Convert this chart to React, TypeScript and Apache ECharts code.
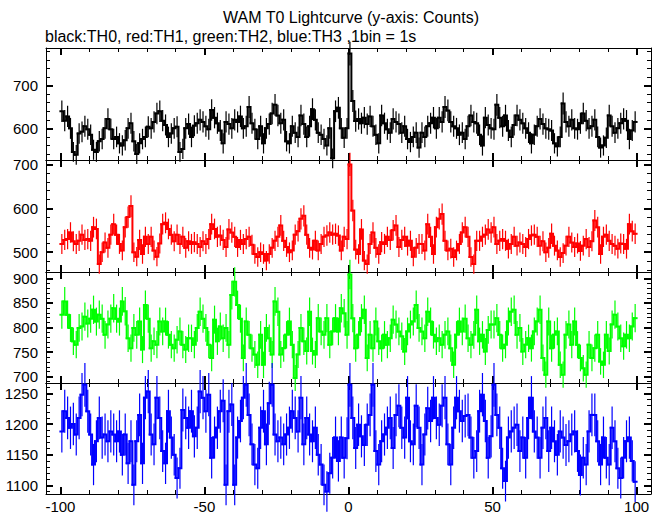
import React, { useEffect, useRef } from 'react';
import * as echarts from 'echarts';

// 1 bin = 1 s, bins from -100 s to +100 s
const BIN_START = -100;
const BIN_WIDTH = 1;

const X_MAJOR = [-100, -50, 0, 50, 100];
const X_MINOR = [-90, -80, -70, -60, -40, -30, -20, -10, 10, 20, 30, 40, 60, 70, 80, 90];

const Y1_MAJOR = [600, 700];
const Y1_MINOR = [540, 560, 580, 620, 640, 660, 680, 720, 740, 760, 780];
const Y2_MAJOR = [500, 600, 700];
const Y2_MINOR = [460, 480, 520, 540, 560, 580, 620, 640, 660, 680];
const Y3_MAJOR = [700, 750, 800, 850, 900];
const Y3_MINOR = [690, 710, 720, 730, 740, 760, 770, 780, 790, 810, 820, 830, 840, 860, 870, 880, 890];
const Y4_MAJOR = [1100, 1150, 1200, 1250];
const Y4_MINOR = [1090, 1110, 1120, 1130, 1140, 1160, 1170, 1180, 1190, 1210, 1220, 1230, 1240, 1260];

// TH0 (black) counts per bin
const TH0 = [
  640, 618, 628, 600, 545, 538, 588, 592, 605, 598,
  585, 550, 545, 570, 575, 600, 622, 598, 575, 580,
  565, 560, 572, 600, 612, 570, 540, 565, 575, 580,
  604, 600, 615, 635, 640, 618, 608, 580, 588, 600,
  604, 545, 552, 600, 610, 580, 606, 612, 620, 615,
  605, 598, 643, 625, 612, 595, 565, 615, 610, 600,
  620, 615, 628, 600, 605, 650, 612, 598, 575, 605,
  565, 600, 610, 635, 655, 630, 612, 620, 570, 565,
  605, 590, 580, 630, 610, 580, 605, 645, 620, 590,
  585, 575, 560, 600, 530, 640, 648, 600, 578, 600,
  775, 664, 617, 622, 612, 625, 610, 628, 605, 585,
  565, 630, 612, 598, 590, 622, 615, 610, 590, 605,
  575, 568, 580, 590, 555, 590, 580, 605, 612, 625,
  600, 625, 615, 650, 642, 615, 605, 600, 585, 590,
  575, 605, 630, 615, 612, 585, 560, 625, 608, 600,
  598, 655, 625, 605, 630, 595, 580, 608, 630, 620,
  612, 600, 590, 565, 585, 605, 622, 610, 600, 598,
  595, 565, 558, 580, 658, 615, 605, 620, 600, 598,
  612, 635, 618, 600, 605, 620, 580, 555, 560, 578,
  630, 605, 590, 600, 612, 622, 618, 575, 595, 615,
];

// TH1 (red)
const TH1 = [
  519, 528, 530, 545, 525, 519, 526, 540, 528, 530,
  526, 557, 553, 473, 500, 522, 510, 540, 564, 540,
  519, 504, 557, 580, 605, 500, 490, 528, 496, 535,
  519, 535, 504, 490, 520, 564, 567, 553, 540, 525,
  540, 519, 535, 510, 525, 519, 523, 519, 512, 525,
  519, 530, 564, 553, 535, 538, 528, 512, 552, 545,
  535, 512, 528, 519, 530, 535, 517, 496, 489, 500,
  496, 481, 496, 510, 526, 535, 561, 526, 512, 500,
  504, 540, 548, 576, 583, 540, 510, 506, 526, 504,
  519, 535, 538, 545, 540, 542, 538, 504, 535, 530,
  700, 595, 506, 496, 552, 481, 473, 519, 545, 510,
  496, 523, 519, 535, 528, 550, 561, 512, 528, 535,
  515, 526, 490, 510, 519, 519, 504, 564, 535, 496,
  557, 576, 587, 526, 504, 508, 489, 504, 519, 545,
  557, 535, 489, 473, 526, 526, 535, 540, 552, 545,
  557, 519, 526, 530, 526, 508, 519, 535, 515, 522,
  519, 512, 530, 538, 540, 535, 515, 525, 500, 510,
  542, 515, 504, 489, 498, 515, 535, 522, 512, 520,
  503, 515, 530, 512, 525, 572, 557, 496, 535, 540,
  526, 519, 515, 508, 520, 519, 508, 564, 548, 542,
];

// TH2 (green)
const TH2 = [
  826, 853, 826, 799, 772, 765, 799, 802, 822, 808,
  818, 836, 812, 826, 818, 785, 806, 818, 839, 818,
  812, 853, 833, 778, 758, 799, 785, 812, 755, 846,
  818, 758, 772, 765, 812, 792, 812, 785, 765, 758,
  775, 792, 765, 755, 778, 778, 765, 799, 832, 818,
  799, 765, 738, 816, 772, 802, 778, 799, 765, 866,
  893, 846, 818, 738, 812, 785, 758, 745, 724, 785,
  724, 799, 778, 745, 853, 832, 745, 758, 785, 812,
  765, 697, 745, 799, 772, 752, 832, 752, 745, 819,
  792, 785, 819, 765, 792, 819, 792, 839, 829, 785,
  908, 819, 758, 785, 819, 836, 738, 785, 758, 812,
  772, 758, 785, 765, 778, 816, 806, 792, 782, 751,
  792, 806, 812, 846, 799, 792, 778, 832, 812, 785,
  772, 778, 765, 785, 792, 758, 724, 785, 812, 792,
  818, 778, 765, 785, 836, 772, 785, 751, 795, 806,
  806, 819, 785, 758, 765, 812, 832, 836, 785, 799,
  751, 765, 778, 758, 792, 812, 836, 738, 704, 812,
  758, 785, 792, 724, 704, 785, 806, 765, 812, 765,
  738, 717, 704, 765, 738, 758, 785, 731, 724, 785,
  752, 806, 826, 802, 778, 762, 785, 778, 802, 819,
];

// TH3 (blue)
const TH3 = [
  1188, 1221, 1210, 1194, 1200, 1183, 1210, 1248, 1264, 1221,
  1183, 1134, 1172, 1210, 1178, 1183, 1172, 1188, 1183, 1172,
  1188, 1150, 1183, 1136, 1172, 1101, 1172, 1215, 1136, 1243,
  1253, 1183, 1167, 1243, 1210, 1156, 1136, 1221, 1178, 1150,
  1112, 1128, 1223, 1210, 1194, 1221, 1180, 1194, 1253, 1243,
  1221, 1248, 1145, 1178, 1194, 1221, 1238, 1101, 1221, 1232,
  1101, 1178, 1205, 1243, 1264, 1215, 1167, 1134, 1128, 1194,
  1221, 1167, 1234, 1264, 1183, 1172, 1178, 1167, 1183, 1194,
  1221, 1210, 1188, 1243, 1167, 1210, 1183, 1172, 1194, 1150,
  1134, 1101, 1090, 1120, 1145, 1178, 1140, 1178, 1145, 1177,
  1264, 1210, 1161, 1199, 1180, 1166, 1199, 1215, 1264, 1156,
  1134, 1172, 1183, 1194, 1210, 1161, 1215, 1230, 1194, 1178,
  1243, 1172, 1167, 1230, 1194, 1134, 1183, 1226, 1205, 1243,
  1210, 1199, 1230, 1243, 1167, 1134, 1194, 1243, 1221, 1205,
  1213, 1215, 1178, 1145, 1156, 1221, 1248, 1205, 1145, 1180,
  1264, 1215, 1194, 1128, 1107, 1178, 1188, 1194, 1199, 1156,
  1178, 1145, 1210, 1243, 1188, 1178, 1145, 1194, 1210, 1156,
  1194, 1172, 1150, 1188, 1178, 1166, 1172, 1183, 1188, 1156,
  1117, 1145, 1134, 1188, 1215, 1215, 1172, 1134, 1178, 1145,
  1134, 1194, 1172, 1128, 1112, 1145, 1172, 1178, 1140, 1106,
];

const TITLE = 'WAM T0 Lightcurve (y-axis: Counts)';
const SUBTITLE = 'black:TH0, red:TH1, green:TH2, blue:TH3 ,1bin = 1s';

const PANELS = [
  { values: TH0, color: '#000000', min: 526, max: 788, major: Y1_MAJOR, minor: Y1_MINOR },
  { values: TH1, color: '#ff0000', min: 455, max: 710, major: Y2_MAJOR, minor: Y2_MINOR },
  { values: TH2, color: '#00ff00', min: 687, max: 913, major: Y3_MAJOR, minor: Y3_MINOR },
  { values: TH3, color: '#0000ff', min: 1086, max: 1267, major: Y4_MAJOR, minor: Y4_MINOR },
];

const LAYOUT = [
  { top: 48, height: 112 },
  { top: 160, height: 112 },
  { top: 272, height: 111 },
  { top: 383, height: 111 },
];

const FONT = 'Liberation Sans';
const TICK_FONT_SIZE = 15;
const TITLE_FONT_SIZE = 16;

function buildOption() {
  const grid: any[] = [];
  const xAxis: any[] = [];
  const yAxis: any[] = [];
  const series: any[] = [];
  const plain = (v: number) => String(v);

  PANELS.forEach((p, i) => {
    grid.push({ left: 46, width: 605, top: LAYOUT[i].top, height: LAYOUT[i].height, show: false });
    const isBottom = i === PANELS.length - 1;
    const xBase = { gridIndex: i, type: 'value', min: -105, max: 105, splitLine: { show: false } };
    const line = { show: true, onZero: false, lineStyle: { color: '#000', width: 1 } };
    const noLine = { show: false, onZero: false };
    const majorTick = (vals: number[]) => ({ show: true, inside: true, length: 7, customValues: vals, lineStyle: { color: '#000', width: 2 } });
    const minorTick = (vals: number[]) => ({ show: true, inside: true, length: 4, customValues: vals, lineStyle: { color: '#000', width: 1 } });
    const firstX = xAxis.length;
    xAxis.push({
      ...xBase, position: 'bottom', axisLine: line, axisTick: majorTick(X_MAJOR),
      axisLabel: { show: isBottom, customValues: X_MAJOR, color: '#000', fontSize: TICK_FONT_SIZE, fontFamily: FONT, margin: 5, formatter: plain },
    });
    xAxis.push({ ...xBase, position: 'bottom', axisLine: noLine, axisTick: minorTick(X_MINOR), axisLabel: { show: false } });
    xAxis.push({ ...xBase, position: 'top', axisLine: line, axisTick: majorTick(X_MAJOR), axisLabel: { show: false } });
    xAxis.push({ ...xBase, position: 'top', axisLine: noLine, axisTick: minorTick(X_MINOR), axisLabel: { show: false } });

    const yBase = { gridIndex: i, type: 'value', min: p.min, max: p.max, splitLine: { show: false } };
    const firstY = yAxis.length;
    yAxis.push({
      ...yBase, position: 'left', axisLine: line, axisTick: majorTick(p.major),
      axisLabel: { show: true, customValues: p.major, color: '#000', fontSize: TICK_FONT_SIZE, fontFamily: FONT, margin: 8, formatter: plain },
    });
    yAxis.push({ ...yBase, position: 'left', axisLine: noLine, axisTick: minorTick(p.minor), axisLabel: { show: false } });
    yAxis.push({ ...yBase, position: 'right', axisLine: line, axisTick: majorTick(p.major), axisLabel: { show: false } });
    yAxis.push({ ...yBase, position: 'right', axisLine: noLine, axisTick: minorTick(p.minor), axisLabel: { show: false } });

    const data = p.values.map((v, k) => [
      BIN_START + (k + 0.5) * BIN_WIDTH,
      v,
      k + 1 < p.values.length ? p.values[k + 1] : NaN,
    ]);
    const color = p.color;
    series.push({
      type: 'custom',
      xAxisIndex: firstX,
      yAxisIndex: firstY,
      clip: false,
      silent: true,
      encode: { x: 0, y: 1 },
      data,
      renderItem: (_params: any, api: any) => {
        const t = api.value(0) as number;
        const v = api.value(1) as number;
        const nv = api.value(2) as number;
        const half = BIN_WIDTH / 2;
        const a = api.coord([t - half, v]);
        const b = api.coord([t + half, v]);
        const err = Math.sqrt(v);
        const e1 = api.coord([t, v + err]);
        const e2 = api.coord([t, v - err]);
        const children: any[] = [
          { type: 'line', shape: { x1: e1[0], y1: e1[1], x2: e2[0], y2: e2[1] }, style: { stroke: color, lineWidth: 1.2 } },
        ];
        const pts: number[][] = [a, b];
        if (isFinite(nv)) {
          pts.push(api.coord([t + half, nv]));
        }
        children.push({
          type: 'polyline',
          shape: { points: pts },
          style: { stroke: color, lineWidth: 2, fill: null, lineJoin: 'miter', lineCap: 'square' },
        });
        return { type: 'group', children };
      },
    });
  });

  return {
    animation: false,
    backgroundColor: '#ffffff',
    textStyle: { fontFamily: FONT },
    grid,
    xAxis,
    yAxis,
    series,
    graphic: [
      {
        type: 'text', x: 351, y: 17,
        style: { text: TITLE, fill: '#000', font: `${TITLE_FONT_SIZE}px "${FONT}"`, textAlign: 'center', textVerticalAlign: 'middle' },
      },
      {
        type: 'text', x: 45, y: 36,
        style: { text: SUBTITLE, fill: '#000', font: `${TITLE_FONT_SIZE}px "${FONT}"`, textAlign: 'left', textVerticalAlign: 'middle' },
      },
    ],
  };
}

export default function App() {
  const ref = useRef<HTMLDivElement>(null);
  useEffect(() => {
    if (!ref.current) return;
    const chart = echarts.init(ref.current, undefined, { renderer: 'svg' });
    chart.setOption(buildOption() as any);
    return () => chart.dispose();
  }, []);
  return (
    <div
      ref={ref}
      style={{ position: 'fixed', left: 0, top: 0, width: 662, height: 515, background: '#fff' }}
    />
  );
}
